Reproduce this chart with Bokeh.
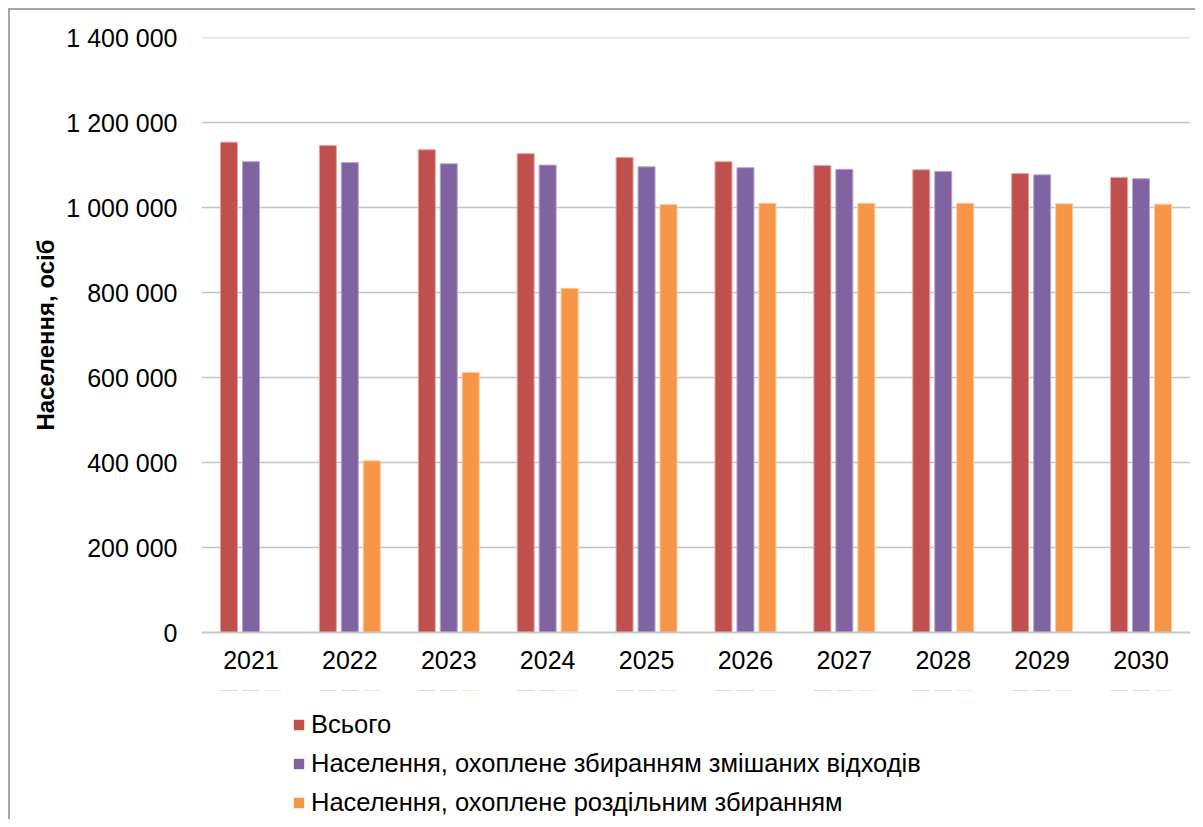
from bokeh.plotting import figure
from bokeh.layouts import column
from bokeh.models import ColumnDataSource, Legend, LegendItem, FactorRange, Range1d, FixedTicker, CustomJSTickFormatter
from bokeh.transform import dodge
from bokeh.embed import file_html
from bokeh.resources import INLINE

years = ["2021", "2022", "2023", "2024", "2025", "2026", "2027", "2028", "2029", "2030"]
total = [1154000, 1146000, 1136000, 1127000, 1118000, 1108000, 1099000, 1089000, 1080000, 1071000]
mixed = [1108000, 1106000, 1103000, 1100000, 1096000, 1094000, 1090000, 1085000, 1077000, 1068000]
separate = [0, 404000, 612000, 810000, 1007000, 1010000, 1010000, 1010000, 1009000, 1008000]
y_ticks = [0, 200000, 400000, 600000, 800000, 1000000, 1200000, 1400000]
series_names = ["Всього",
                "Населення, охоплене збиранням змішаних відходів",
                "Населення, охоплене роздільним збиранням"]
colors = ["#C0504D", "#8064A2", "#F79646"]
edge_colors = ["#E3A5A3", "#B6A5CB", "#FBC99F"]
cols = ["total", "mixed", "separate"]
offsets = [-0.222, 0.0, 0.222]

src = ColumnDataSource(dict(year=years, total=total, mixed=mixed, separate=separate))

FONT = "Liberation Sans"
W = 1185

p = figure(x_range=FactorRange(*years), y_range=Range1d(0, 1400300),
           width=W, height=680, output_backend="svg", toolbar_location=None,
           min_border_left=191, min_border_right=5, min_border_top=27, min_border_bottom=58)
p.outline_line_color = None
p.background_fill_color = "white"
p.border_fill_color = "white"

for col, off, c, ec in zip(cols, offsets, colors, edge_colors):
    p.vbar(x=dodge("year", off, range=p.x_range), top=col, width=0.172, source=src,
           fill_color=c, line_color=ec, line_width=1)

p.xgrid.grid_line_color = None
p.ygrid.grid_line_color = "#C4C4C4"
p.ygrid.grid_line_width = 1.5
p.yaxis.ticker = FixedTicker(ticks=y_ticks)
p.yaxis.formatter = CustomJSTickFormatter(code="""
    return tick.toFixed(0).replace(/\\B(?=(\\d{3})+(?!\\d))/g, ' ');
""")
p.yaxis.axis_line_color = None
p.yaxis.major_tick_line_color = None
p.yaxis.minor_tick_line_color = None
p.yaxis.major_tick_out = 0
p.yaxis.major_label_standoff = 24
p.yaxis.major_label_text_font = FONT
p.yaxis.major_label_text_font_size = "25px"
p.yaxis.major_label_text_color = "black"
p.yaxis.axis_label = "Населення, осіб"
p.yaxis.axis_label_text_font = FONT
p.yaxis.axis_label_text_font_size = "24px"
p.yaxis.axis_label_text_font_style = "bold"
p.yaxis.axis_label_text_color = "black"
p.yaxis.axis_label_standoff = 4

p.xaxis.axis_line_color = "#C8C8C8"
p.xaxis.axis_line_width = 2
p.xaxis.major_tick_line_color = None
p.xaxis.minor_tick_line_color = None
p.xaxis.major_tick_out = 0
p.xaxis.major_label_standoff = 18
p.xaxis.major_label_text_font = FONT
p.xaxis.major_label_text_font_size = "25px"
p.xaxis.major_label_text_color = "black"

# legend panel below the chart (shares the x scale; its bars fall above its visible y range)
lf = figure(width=W, height=129, output_backend="svg", toolbar_location=None,
            x_axis_type=None, y_axis_type=None, x_range=p.x_range,
            y_range=Range1d(-1400000, -100000),
            min_border_left=0, min_border_right=0, min_border_top=0, min_border_bottom=0)
lf.outline_line_color = None
lf.xgrid.grid_line_color = None
lf.ygrid.grid_line_color = None
swatches = []
for col, off, c in zip(cols, offsets, colors):
    swatches.append(lf.vbar(x=dodge("year", off, range=lf.x_range), top=col, width=0.172, source=src,
                            fill_color=c, line_color=None))

legend = Legend(items=[LegendItem(label=n, renderers=[r]) for n, r in zip(series_names, swatches)],
                location=(91, 2), orientation="vertical",
                glyph_width=13, glyph_height=13, spacing=10, padding=0, margin=0,
                label_text_font=FONT, label_text_font_size="25.5px", label_text_color="black",
                label_standoff=6, border_line_color=None, background_fill_alpha=0)
lf.add_layout(legend, "center")

layout = column(p, lf, spacing=0,
                styles={"margin-left": "8px", "margin-top": "8px",
                        "border-left": "2px solid #A6A6A6", "border-top": "2px solid #A6A6A6"})

open("out.html", "w").write(file_html(layout, INLINE))
